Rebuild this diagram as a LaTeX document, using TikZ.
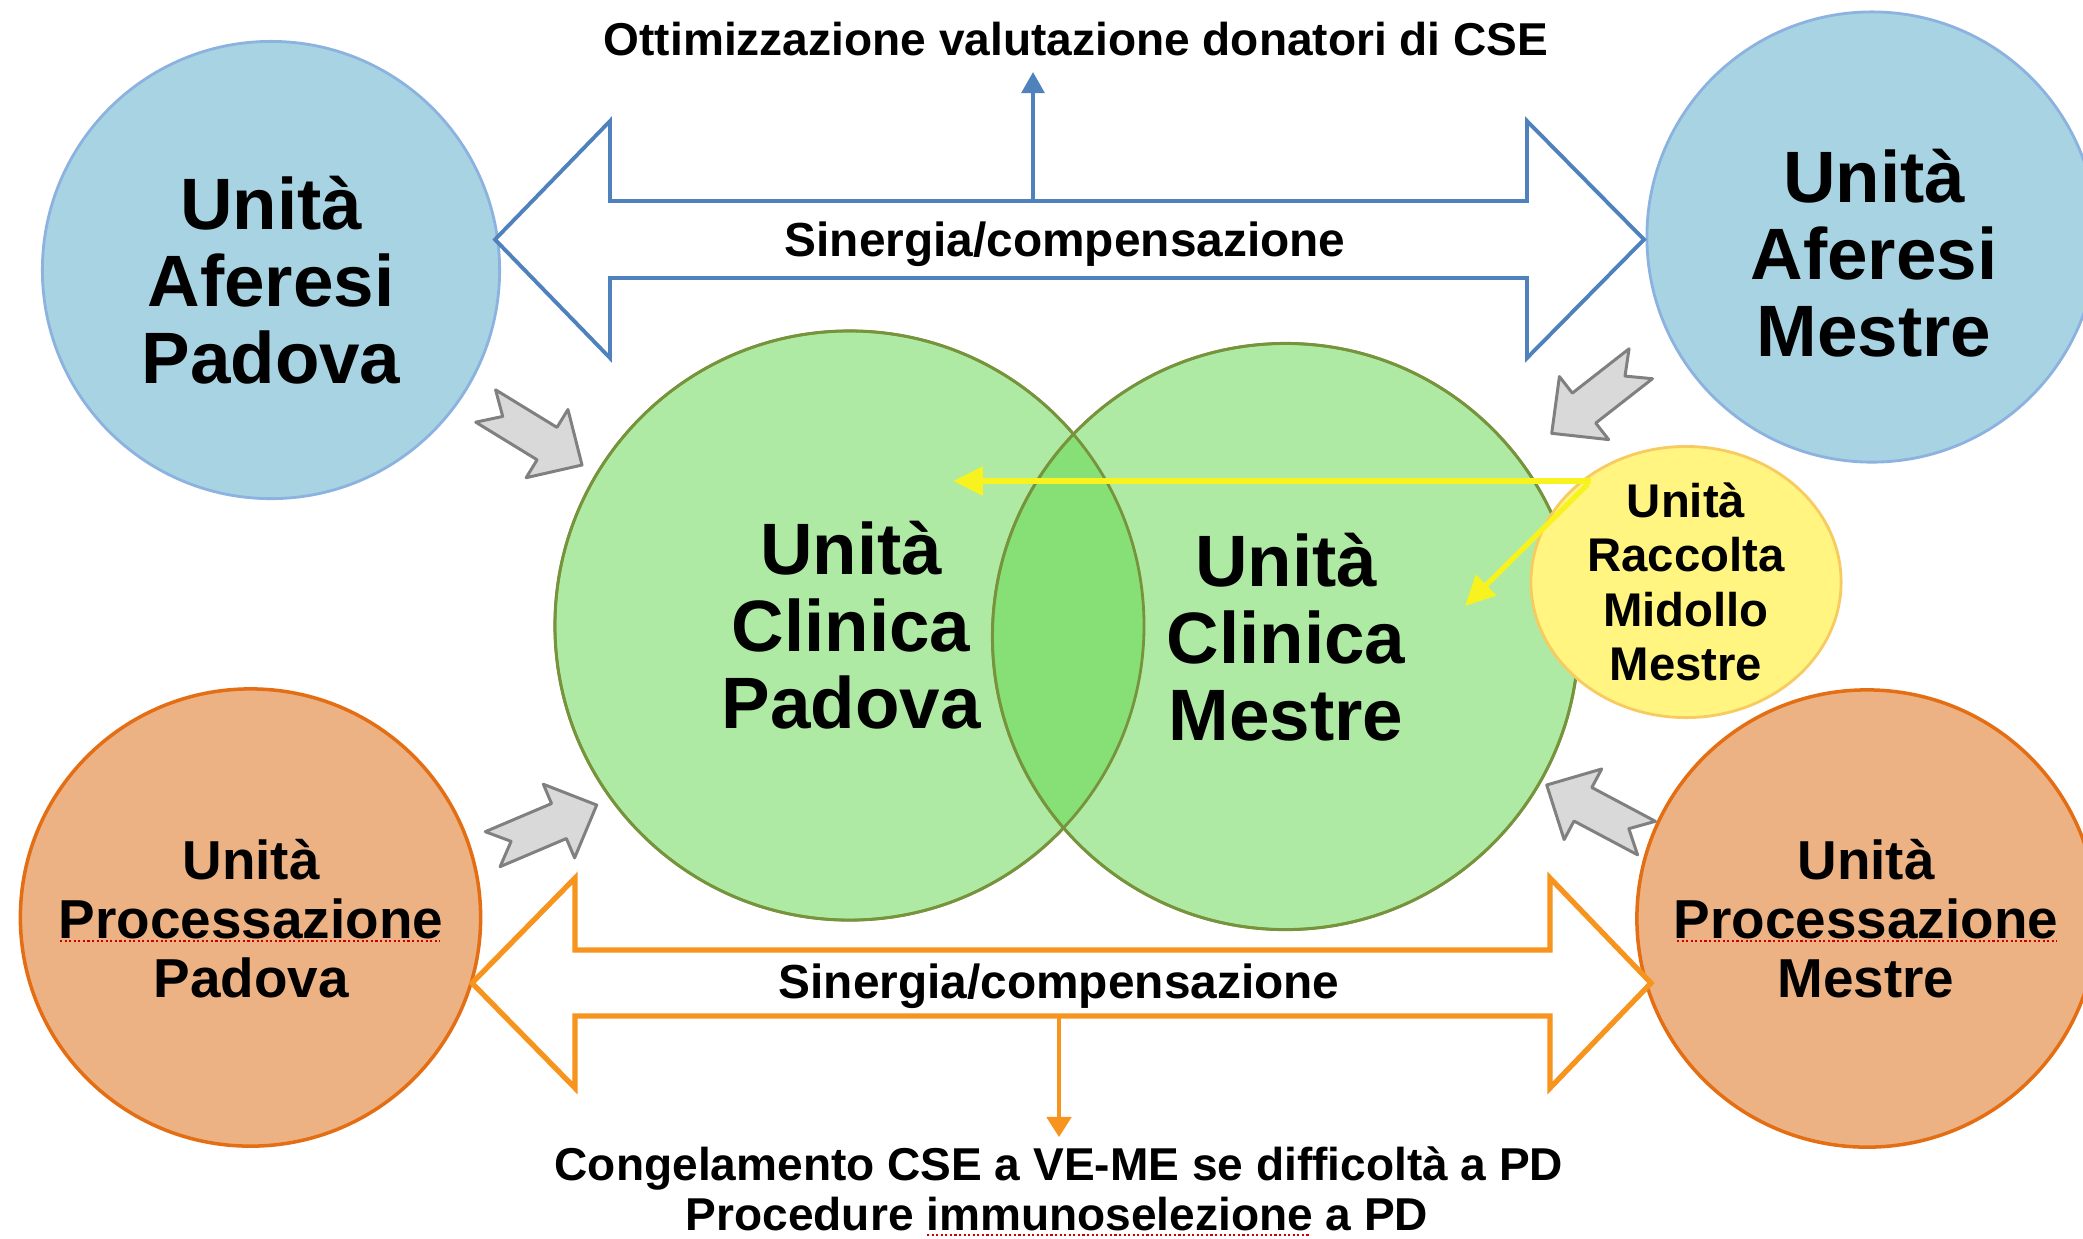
\documentclass[tikz,border=0pt]{standalone}
\usepackage{fontspec}
\setmainfont{Liberation Sans}
\usetikzlibrary{arrows.meta,shapes.geometric}
\definecolor{bluefill}{RGB}{168,211,226}
\definecolor{blueedge}{RGB}{140,178,224}
\definecolor{bluearrow}{RGB}{79,129,189}
\definecolor{greenfill}{RGB}{174,234,164}
\definecolor{greenover}{RGB}{134,224,118}
\definecolor{greenedge}{RGB}{119,147,60}
\definecolor{yelfill}{RGB}{255,245,128}
\definecolor{yeledge}{RGB}{248,203,97}
\definecolor{yelarrow}{RGB}{248,242,30}
\definecolor{orfill}{RGB}{237,178,132}
\definecolor{oredge}{RGB}{228,110,20}
\definecolor{orarrow}{RGB}{247,148,29}
\definecolor{grayfill}{RGB}{217,217,217}
\definecolor{grayedge}{RGB}{128,128,128}
\newcommand\fBig{\fontsize{20.7pt}{21.9pt}\selectfont\bfseries}
\newcommand\fProc{\fontsize{15.6pt}{16.8pt}\selectfont\bfseries}
\newcommand\fYel{\fontsize{13.45pt}{15.5pt}\selectfont\bfseries}
\newcommand\fSmall{\fontsize{13.1pt}{14.5pt}\selectfont\bfseries}
\newcommand\fSin{\fontsize{13.6pt}{15pt}\selectfont\bfseries}
\begin{document}
\begin{tikzpicture}[x=0.01cm,y=-0.01cm,
  bluecirc/.style={circle,fill=bluefill,draw=blueedge,line width=0.8pt,inner sep=0pt},
  greencirc/.style={circle,fill=greenfill,draw=greenedge,line width=0.8pt,inner sep=0pt},
  greenline/.style={draw=greenedge,line width=0.8pt},
  yelcirc/.style={ellipse,fill=yelfill,draw=yeledge,line width=0.8pt,inner sep=0pt},
  orcirc/.style={ellipse,fill=orfill,draw=oredge,line width=1pt,inner sep=0pt},
  bigarrowblue/.style={fill=white,draw=bluearrow,line width=1.1pt},
  bigarroworange/.style={fill=white,draw=orarrow,line width=1.5pt},
  thinblue/.style={draw=bluearrow,line width=1pt,-{Triangle[length=6pt,width=6.5pt]}},
  thinorange/.style={draw=orarrow,line width=0.9pt,-{Triangle[length=5.7pt,width=7pt]}},
  yelline/.style={draw=yelarrow,line width=1.5pt,-{Triangle[length=8.5pt,width=8pt]}},
  grayarr/.style={fill=grayfill,draw=grayedge,line width=0.85pt,line join=round},
  txt/.style={align=center,inner sep=0pt},
  spell/.style={draw=red!80!black,line width=0.6pt,dash pattern=on 0.6pt off 0.7pt},
  garrow/.pic={\draw[grayarr] (0,0) -- (-41,-40) -- (-41,-19) -- (-113,-19) -- (-93,0)
      -- (-113,19) -- (-41,19) -- (-41,40) -- cycle;}
]
\useasboundingbox (0,0) rectangle (2083,1238);
\clip (0,0) rectangle (2083,1238);

% circles
\node[bluecirc,minimum size=4.57cm] (afp) at (271,270) {};
\node[bluecirc,minimum size=4.5cm] (afm) at (1872,237) {};
\node[orcirc,minimum width=4.6cm,minimum height=4.57cm] (prp) at (250.5,917.5) {};
\node[orcirc,minimum width=4.6cm,minimum height=4.57cm] (prm) at (1867,918.5) {};
\node[greencirc,minimum size=5.89cm] (cp) at (849.5,625.5) {};
\node[greencirc,minimum size=5.86cm] (cm) at (1285.5,636.5) {};
\begin{scope}
  \clip (cp.center) circle[radius=294.5];
  \fill[greenover] (cm.center) circle[radius=293];
\end{scope}
\draw[greenline] (cp.center) circle[radius=294.5];
\draw[greenline] (cm.center) circle[radius=293];
\node[yelcirc,minimum width=3.1cm,minimum height=2.71cm] (ym) at (1686,582) {};

% big double arrows
\draw[bigarrowblue] (495,239.5) -- (610,121) -- (610,201) -- (1527,201) -- (1527,121)
  -- (1644,239.5) -- (1527,358) -- (1527,278) -- (610,278) -- (610,358) -- cycle;
\draw[bigarroworange] (472,983) -- (575,878) -- (575,950) -- (1550,950) -- (1550,878)
  -- (1651,983) -- (1550,1088) -- (1550,1016) -- (575,1016) -- (575,1088) -- cycle;

% small arrows to the notes
\coordinate (bsh) at (1033,201);
\coordinate (btip) at (1033,72);
\draw[thinblue] (bsh) -- (btip);
\coordinate (osh) at (1059,1016);
\coordinate (otip) at (1059,1137);
\draw[thinorange] (osh) -- (otip);

% gray block arrows
\pic[rotate=-31.5] at (582,465) {garrow};
\pic[rotate=-142] at (1551.7,433.3) {garrow};
\pic[rotate=23] at (596.7,805) {garrow};
\pic[rotate=152] at (1546.7,785) {garrow};

% yellow arrows
\coordinate (ys1) at (1591,481);
\coordinate (yt1) at (953,481);
\coordinate (ys2) at (1588,484);
\coordinate (yt2) at (1465,606);
\draw[yelline] (ys1) -- (yt1);
\draw[yelline] (ys2) -- (yt2);

% texts
\node[txt,font=\fBig] (tafp) at (271,280) {Unità\\Aferesi\\Padova};
\node[txt,font=\fBig] (tafm) at (1874,253) {Unità\\Aferesi\\Mestre};
\node[txt,font=\fBig] (tcp) at (851,625) {Unità\\Clinica\\Padova};
\node[txt,font=\fBig] (tcm) at (1286,637) {Unità\\Clinica\\Mestre};
\node[txt,font=\fYel] (tym) at (1686,582) {Unità\\Raccolta\\Midollo\\Mestre};
\node[txt,font=\fProc] (tprp) at (251,919) {Unità\\Processazione\\Padova};
\node[txt,font=\fProc] (tprm) at (1866,919) {Unità\\Processazione\\Mestre};
\node[txt,font=\fSmall,anchor=base] (ott) at (1076,55) {Ottimizzazione valutazione donatori di CSE};
\node[txt,font=\fSin,anchor=base] (bsin) at (1065,256) {Sinergia/compensazione};
\node[txt,font=\fSin,anchor=base] (osin) at (1059,998) {Sinergia/compensazione};
\node[txt,font=\fSmall,anchor=base] (cong) at (1059,1180) {Congelamento CSE a VE-ME se difficoltà a PD};
\node[txt,font=\fSmall,anchor=base] (proc) at (1057,1230) {Procedure immunoselezione a PD};

% spell-check underlines
\draw[spell] (60,941) -- (440,941);
\draw[spell] (1677,941) -- (2057,941);
\draw[spell] (927,1235) -- (1311,1235);
\end{tikzpicture}
\end{document}
